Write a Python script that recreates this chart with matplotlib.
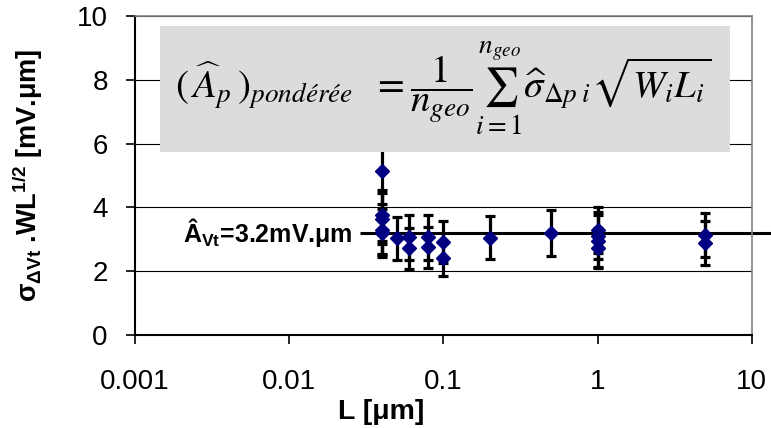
import matplotlib
matplotlib.use("Agg")
import matplotlib.pyplot as plt
from matplotlib.patches import Rectangle

# Données : longueur de grille et écart-type normalisé
L_um = [0.04, 0.04, 0.04, 0.04, 0.04, 0.05, 0.06, 0.06, 0.08, 0.08,
        0.1, 0.1, 0.2, 0.5, 1, 1, 1, 1, 5, 5]
sigma_norm = [5.15, 3.75, 3.65, 3.3, 3.2, 3.03, 3.06, 2.72, 3.06, 2.75,
              2.92, 2.4, 3.05, 3.2, 3.28, 3.12, 2.95, 2.72, 3.15, 2.88]
err = [2.6, 0.8, 0.8, 0.8, 0.75, 0.68, 0.7, 0.65, 0.7, 0.65,
       0.65, 0.55, 0.68, 0.72, 0.72, 0.75, 0.82, 0.62, 0.69, 0.69]
A_vt = 3.2
xticks = [0.001, 0.01, 0.1, 1, 10]
xtick_labels = ["0.001", "0.01", "0.1", "1", "10"]
yticks = [0, 2, 4, 6, 8, 10]

plt.rcParams["font.family"] = ["Liberation Sans", "DejaVu Sans"]
plt.rcParams["mathtext.fontset"] = "custom"
plt.rcParams["mathtext.rm"] = "Liberation Sans"
plt.rcParams["mathtext.bf"] = "Liberation Sans:bold"
plt.rcParams["mathtext.it"] = "Liberation Sans:italic"

fig = plt.figure(figsize=(7.71, 4.28), dpi=100)
ax = fig.add_axes([0.175, 0.217, 0.8, 0.746])

ax.set_xscale("log")
ax.set_xlim(0.001, 10)
ax.set_ylim(0, 10)

# Grille horizontale
for y in yticks[1:]:
    ax.axhline(y, color="black", lw=0.8, zorder=1)

# Encadré gris avec la formule
ax.add_patch(Rectangle((0.04, 0.574), 0.925, 0.395, transform=ax.transAxes,
                       facecolor="#dcdcdc", edgecolor="none", zorder=4))
ax.text(0.50, 0.77,
        r"$(\,\widehat{A}_p\,)_{pondérée}\ \ =\dfrac{1}{n_{geo}}\sum_{i=1}^{n_{geo}}\widehat{\sigma}_{\Delta p\;i}\sqrt{W_iL_i}$",
        transform=ax.transAxes, ha="center", va="center", fontsize=28,
        math_fontfamily="stix", zorder=5)

# Barres d'erreur + points
ax.errorbar(L_um, sigma_norm, yerr=err, fmt="D", color="#000080",
            ms=7.5, ecolor="black", elinewidth=2.3, capsize=3.5, capthick=2.3,
            zorder=3)

# Droite moyenne
ax.hlines(A_vt, 0.029, 13.5, color="black", lw=2.2, clip_on=False, zorder=2)
ax.text(0.026, A_vt, r"Â$_{\mathbf{Vt}}$=3.2mV.μm", ha="right", va="center",
        fontsize=18, fontweight="bold")

ax.set_xticks(xticks)
ax.set_xticklabels(xtick_labels)
ax.minorticks_off()
ax.set_yticks(yticks)
ax.tick_params(axis="both", labelsize=20, length=6.5, width=1.2, direction="out")
ax.tick_params(axis="x", pad=18)
ax.tick_params(axis="y", pad=13)

for s in ["left", "bottom"]:
    ax.spines[s].set_linewidth(1.5)
for s in ["top", "right"]:
    ax.spines[s].set_color("gray")
    ax.spines[s].set_linewidth(1.2)

ax.set_xlabel("L [μm]", fontsize=20.5, fontweight="bold")
ax.set_ylabel(r"σ$_{\mathbf{ΔVt}}$ .WL$^{\mathbf{1/2}}$ [mV.μm]",
              fontsize=19.5, fontweight="bold")
ax.xaxis.set_label_coords(0.40, -0.2)
ax.yaxis.set_label_coords(-0.146, 0.5)

plt.savefig("out.png", dpi=100)
